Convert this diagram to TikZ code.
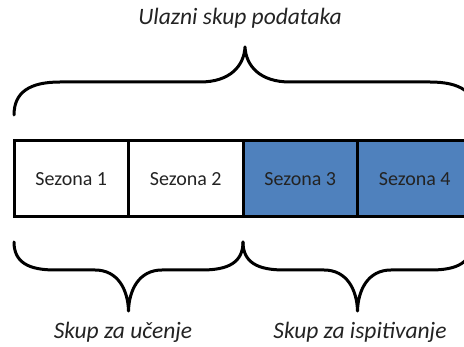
\documentclass[tikz,border=0pt]{standalone}
\usepackage{fontspec}
\setmainfont{Carlito}
\usepackage{tikz}
\usetikzlibrary{positioning}
\definecolor{cellblue}{RGB}{79,129,189}
\definecolor{ink}{RGB}{35,35,35}
\tikzset{
  cell/.style={draw=black, line width=3pt, minimum width=114.5pt, minimum height=76pt,
               inner sep=0pt, outer sep=0pt, text=ink, font=\fontsize{20}{24}\selectfont},
  test/.style={cell, fill=cellblue},
  brace/.style={draw=black, line width=3pt, line cap=round, line join=round},
  caption/.style={anchor=base, text=ink, font=\fontsize{23.5}{28}\selectfont\itshape},
}
\begin{document}
\begin{tikzpicture}[x=1pt, y=-1pt]
  \useasboundingbox (0,0) rectangle (464,347);
  \clip (0,0) rectangle (464,347);
  % ===================== top brace =====================
  \node[caption] (lin) at (240,25) {Ulazni skup podataka};
  \draw[brace] (14,115) .. controls (14,92) and (30,82) .. (60,82) -- (200,82)
    .. controls (230,82) and (244,66) .. (245,47)
    .. controls (246,66) and (260,82) .. (290,82) -- (430,82)
    .. controls (460,82) and (476,92) .. (476,115);
  % ===================== seasons =====================
  \node[cell] (s1) at (71.25,179) {Sezona 1};
  \node[cell, right=0pt of s1] (s2) {Sezona 2};
  \node[test, right=0pt of s2] (s3) {Sezona 3};
  \node[test, right=0pt of s3] (s4) {Sezona 4};
  % ===================== bottom braces =====================
  \draw[brace] (14,242) .. controls (14,262) and (28,270) .. (55,270) -- (95,270)
    .. controls (118,270) and (128,290) .. (128.5,311)
    .. controls (129,290) and (139,270) .. (162,270) -- (202,270)
    .. controls (229,270) and (243,262) .. (243,242);
  \draw[brace] (243,242) .. controls (243,262) and (257,270) .. (284,270) -- (324,270)
    .. controls (347,270) and (357,290) .. (357.5,311)
    .. controls (358,290) and (368,270) .. (391,270) -- (431,270)
    .. controls (458,270) and (472,262) .. (472,242);
  \node[caption] (ltrain) at (123,339) {Skup za učenje};
  \node[caption] (ltest) at (360,339) {Skup za ispitivanje};
\end{tikzpicture}
\end{document}
